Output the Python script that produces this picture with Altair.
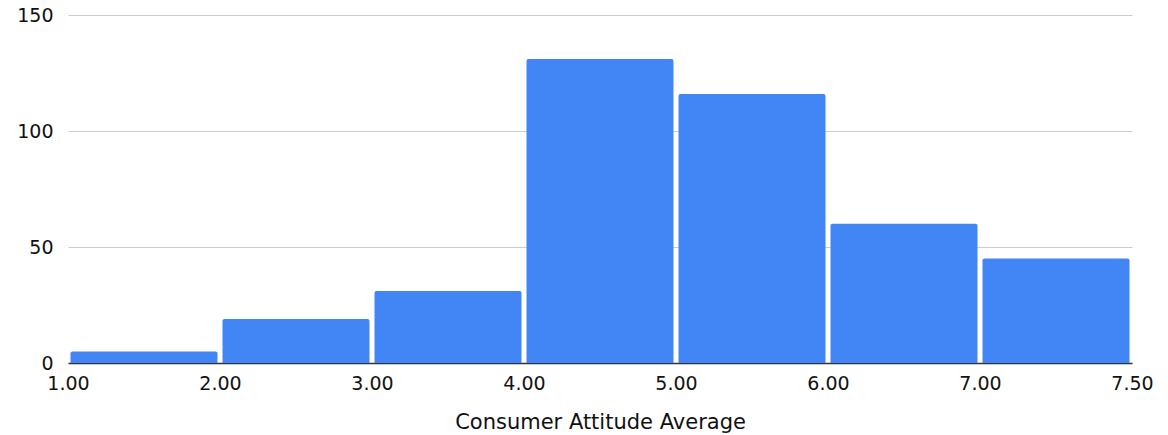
import altair as alt
import pandas as pd

bin_labels = ["1.00", "2.00", "3.00", "4.00", "5.00", "6.00", "7.00", "7.50"]
counts = [5, 19, 31, 131, 116, 60, 45]

df = pd.DataFrame({
    "start": list(range(len(counts))),
    "end": [i + 1 for i in range(len(counts))],
    "count": counts,
    "base": [0] * len(counts),
})

label_js = "[" + ",".join("'" + s + "'" for s in bin_labels) + "]"

FONT = "DejaVu Sans"

chart = alt.Chart(df).mark_bar(
    color="#4285F4", xOffset=2.5, x2Offset=-2.5,
    cornerRadiusTopLeft=2, cornerRadiusTopRight=2, orient="vertical"
).encode(
    x=alt.X("start:Q", scale=alt.Scale(domain=[0, len(counts)], nice=False, zero=False, padding=0),
            axis=alt.Axis(values=list(range(len(bin_labels))), labelExpr=label_js + "[datum.value]",
                          title="Consumer Attitude Average", grid=False, ticks=False,
                          domainColor="#333333", domainWidth=1.5, labelPadding=11,
                          labelFont=FONT, labelFontSize=19, labelColor="#111111",
                          titleFont=FONT, titleFontSize=21, titleFontWeight="normal",
                          titleColor="#111111", titlePadding=18, labelFlush=False)),
    x2="end:Q",
    y=alt.Y("count:Q", scale=alt.Scale(domain=[0, 150], nice=False),
            axis=alt.Axis(values=[0, 50, 100, 150], title=None, ticks=False, domain=False,
                          gridColor="#cccccc", labelPadding=15, labelFontSize=19,
                          labelFont=FONT, labelColor="#111111")),
    y2="base:Q",
).properties(
    width=1064, height=348,
    autosize=alt.AutoSizeParams(type="none"),
    padding={"left": 68, "top": 15, "right": 36, "bottom": 72},
).configure_view(stroke=None)

chart.save("out.html", embed_options={"renderer": "svg", "actions": False})
